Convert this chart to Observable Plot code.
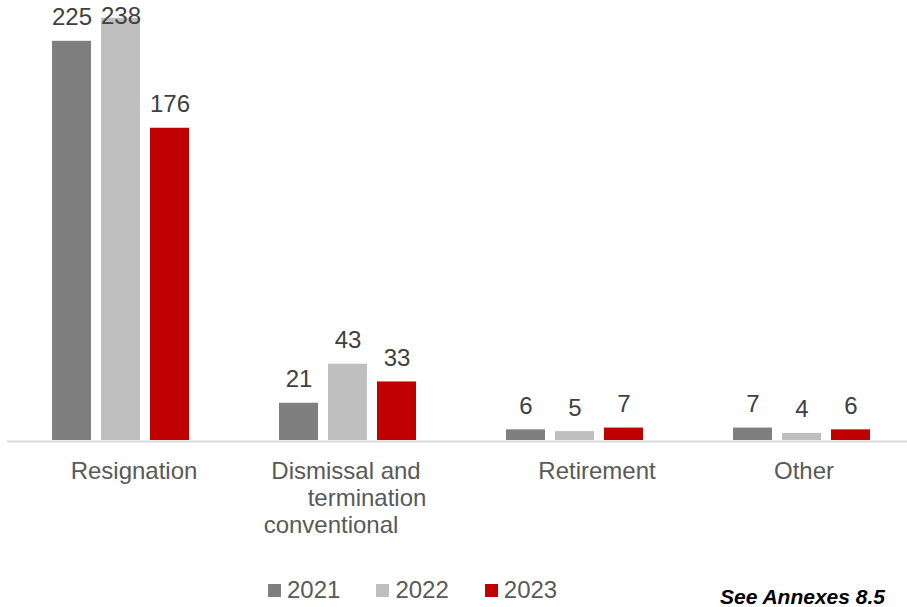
<!DOCTYPE html>
<html>
<head>
<meta charset="utf-8">
<script src="https://cdn.jsdelivr.net/npm/d3@7"></script>
<script src="https://cdn.jsdelivr.net/npm/@observablehq/plot@0.6"></script>
<style>
  html, body { margin: 0; padding: 0; background: #fff; }
  #wrap { position: relative; width: 907px; height: 607px; overflow: hidden; font-family: "Liberation Sans", Arial, sans-serif; }
  #chart { position: absolute; left: 0; top: 0; }
  #legend { position: absolute; left: 268px; top: 578px; display: flex; gap: 36px; font-size: 24px; line-height: 24px; color: #595959; }
  .item { display: flex; align-items: center; gap: 6px; }
  .sw { width: 13px; height: 13px; display: inline-block; }
  #caption { position: absolute; right: 22px; top: 586px; font-size: 21px; line-height: 21px; font-weight: bold; font-style: italic; color: #000; }
</style>
</head>
<body>
<div id="wrap">
  <div id="chart"></div>
  <div id="legend"></div>
  <div id="caption">See Annexes 8.5</div>
</div>
<script>
const categories = ["Resignation", "Dismissal and\ntermination\nconventional", "Retirement", "Other"];
const years = ["2021", "2022", "2023"];
const v2021 = [225, 21, 6, 7];
const v2022 = [238, 43, 5, 4];
const v2023 = [176, 33, 7, 6];

const colors = ["#7f7f7f", "#bfbfbf", "#c00000"];
const series = [v2021, v2022, v2023];
const rows = [];
categories.forEach((c, i) => years.forEach((y, j) => rows.push({cat: c, year: y, value: series[j][i]})));

// value labels are kept inside the plot area (as the original does)
const yMax = 248;
const labelCap = 225.5;

// per-line horizontal offsets of the category labels (style)
const labelDx = {
  "Resignation": [13],
  "Dismissal and\ntermination\nconventional": [-2, 19, -17],
  "Retirement": [22],
  "Other": [2]
};
const labelLines = categories.flatMap(c => c.split("\n").map((t, i) => ({cat: c, line: i, text: t})));

const labelMarks = labelLines.map(l => Plot.text([l], {
  fx: "cat", frameAnchor: "bottom", text: "text",
  dx: labelDx[l.cat][l.line], dy: 38 + l.line * 27, lineAnchor: "bottom",
  fontSize: 24, fill: "#595959"
}));

const chart = Plot.plot({
  width: 907, height: 545,
  marginTop: 0, marginBottom: 105, marginLeft: 5, marginRight: 0,
  style: {fontFamily: "Liberation Sans, Arial, sans-serif", background: "transparent", overflow: "visible"},
  fx: {domain: categories, range: [5.25, 915.75], padding: 0, axis: null},
  x: {domain: years, paddingInner: 0.2, paddingOuter: 0.875, axis: null},
  y: {domain: [0, yMax], axis: null},
  color: {domain: years, range: colors},
  marks: [
    Plot.barY(rows, {fx: "cat", x: "year", y: "value", fill: "year"}),
    Plot.ruleY([0], {stroke: "#d9d9d9", strokeWidth: 2, dy: 1}),
    Plot.text(rows, {fx: "cat", x: "year", y: d => Math.min(d.value, labelCap), text: d => String(d.value), dy: -16, lineAnchor: "bottom", fontSize: 24, fill: "#404040"}),
    ...labelMarks
  ]
});
document.getElementById("chart").appendChild(chart);

const legend = document.getElementById("legend");
years.forEach((y, j) => {
  const item = document.createElement("span");
  item.className = "item";
  const sw = document.createElement("span");
  sw.className = "sw";
  sw.style.background = colors[j];
  const t = document.createElement("span");
  t.textContent = y;
  item.appendChild(sw); item.appendChild(t);
  legend.appendChild(item);
});
</script>
</body>
</html>
